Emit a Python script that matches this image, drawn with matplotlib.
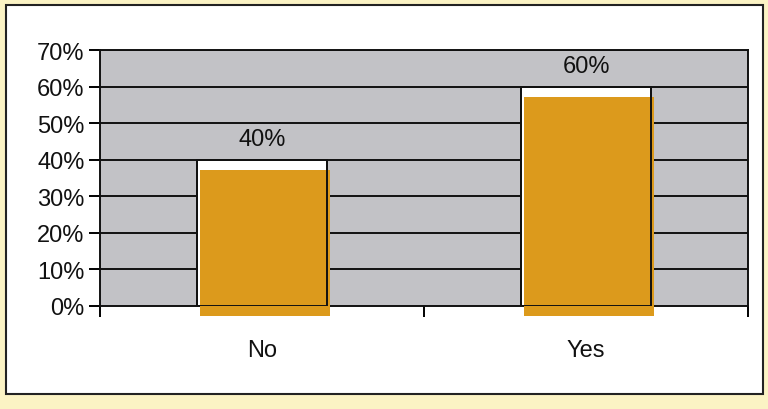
import matplotlib.pyplot as plt
from matplotlib.patches import Rectangle
from matplotlib.transforms import ScaledTranslation

plt.rcParams['font.family'] = ['Liberation Sans', 'DejaVu Sans']

# dados
categorias = ['No', 'Yes']
valores = [40, 60]
rotulos = ['40%', '60%']
ticks_y = [0, 10, 20, 30, 40, 50, 60, 70]

fig = plt.figure(figsize=(7.68, 4.10), dpi=100, facecolor='#fbf3c4')

# painel branco com borda
fig.patches.append(Rectangle((6 / 768, 15 / 410), 757 / 768, 389 / 410,
                             transform=fig.transFigure, facecolor='white',
                             edgecolor='#222222', linewidth=1.5, zorder=-10))

ax = fig.add_axes([100 / 768, 103 / 410, 648 / 768, 256 / 410])
ax.set_facecolor('#c2c2c6')
ax.set_xlim(-0.5, 1.5)
ax.set_ylim(0, 70)

# linhas de grade
for v in ticks_y[1:]:
    ax.axhline(v, color='#111111', linewidth=1.4, zorder=1)

x = range(len(categorias))
# barra branca com contorno
ax.bar(x, valores, width=0.4, color='white', edgecolor='#111111',
       linewidth=1.4, zorder=2)
# preenchimento laranja deslocado (impressão desalinhada)
deslocamento = ax.transData + ScaledTranslation(3 / 100, -10 / 100, fig.dpi_scale_trans)
barras = ax.bar(x, valores, width=0.4, color='#dc9a1c', edgecolor='none', zorder=3)
for b in barras:
    b.set_transform(deslocamento)
    b.set_clip_on(False)
# contorno por cima
ax.bar(x, valores, width=0.4, color='none', edgecolor='#111111',
       linewidth=1.4, zorder=4)

for xi, v, r in zip(x, valores, rotulos):
    ax.annotate(r, (xi, v), xytext=(0, 7), textcoords='offset points',
                ha='center', va='bottom', fontsize=17, color='#111111')

ax.set_yticks(ticks_y)
ax.set_yticklabels([f'{v}%' for v in ticks_y], fontsize=17, color='#111111')
ax.set_xticks([-0.5, 0.5, 1.5])
ax.set_xticklabels([])
ax.set_xticks([0, 1], minor=True)
ax.set_xticklabels(categorias, minor=True, fontsize=17, color='#111111')
ax.tick_params(axis='x', which='major', length=8, width=1.4, direction='out')
ax.tick_params(axis='x', which='minor', length=0, pad=24)
ax.tick_params(axis='y', length=8, width=1.4, direction='out', pad=3)

for s in ['left', 'bottom', 'right', 'top']:
    ax.spines[s].set_color('#111111')
    ax.spines[s].set_linewidth(1.4)

fig.savefig('out.png', dpi=100, facecolor=fig.get_facecolor())
